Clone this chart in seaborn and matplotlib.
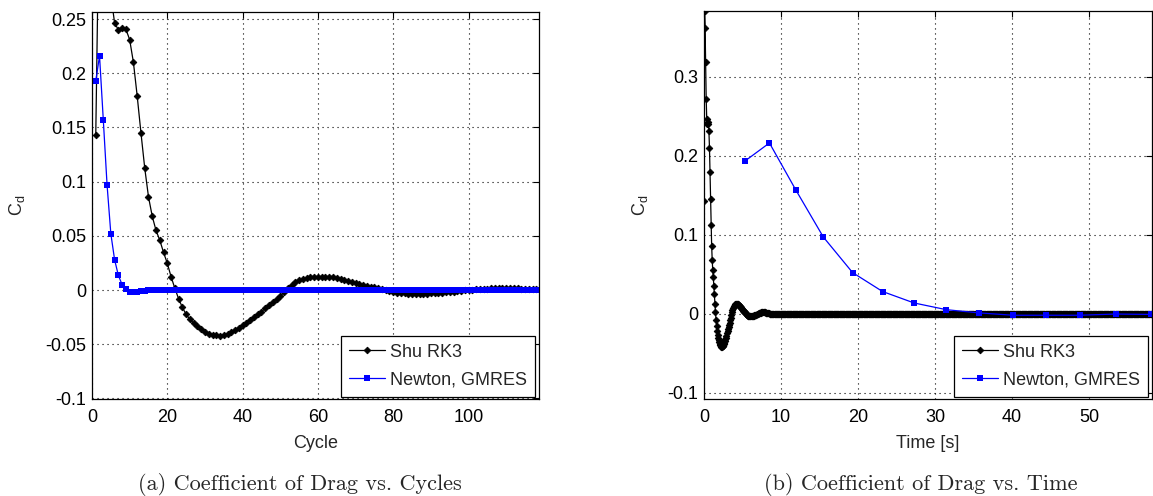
import numpy as np
import pandas as pd
import matplotlib
matplotlib.use("Agg")
import matplotlib.pyplot as plt
import seaborn as sns

# Drag coefficient of the explicit Shu RK3 scheme, one value per cycle (cycles 1..120)
shu_cd_first = [
    0.143, 0.383, 0.362, 0.318, 0.272, 0.2465, 0.240, 0.242, 0.2406, 0.231,
    0.210, 0.179, 0.145, 0.1126, 0.086, 0.068, 0.055, 0.046, 0.0347, 0.0246,
    0.0123, 0.0016, -0.008, -0.016, -0.0225, -0.027, -0.0305, -0.0335, -0.0362, -0.0385,
    -0.0402, -0.0413, -0.0419, -0.042, -0.0414, -0.0403, -0.0387, -0.0368, -0.0346, -0.0325,
    -0.0302, -0.0277, -0.0251, -0.0225, -0.0198, -0.017, -0.0142, -0.0113, -0.0082, -0.0053,
    -0.0022, 0.0018, 0.0048, 0.0072, 0.009, 0.0102, 0.0110, 0.0116, 0.0120, 0.0123,
    0.0124, 0.0124, 0.0123, 0.0118, 0.0110, 0.0100, 0.0090, 0.0081, 0.0072, 0.0064,
    0.0055, 0.0047, 0.0039, 0.0031, 0.0024, 0.0015, 0.0006, -0.0004, -0.0012, -0.0019,
    -0.0024, -0.0028, -0.0031, -0.0033, -0.0034, -0.0035, -0.0035, -0.0034, -0.0033, -0.0031,
    -0.0029, -0.0026, -0.0023, -0.002, -0.0017, -0.0014, -0.0011, -0.0008, -0.0004, 0.0,
    0.0003, 0.0006, 0.0009, 0.0011, 0.0013, 0.0015, 0.0016, 0.0017, 0.0017, 0.0017,
    0.0017, 0.0016, 0.0015, 0.0014, 0.0013, 0.0012, 0.0010, 0.0008, 0.0006, 0.0004,
]
# after cycle 120 the explicit solution has settled at zero
shu_cd_settled = [0.0] * 710
shu_cd = shu_cd_first + shu_cd_settled
shu_dt = 0.071  # physical time per explicit cycle [s]

# Drag coefficient of the implicit Newton / GMRES solver, one value per cycle
newton_cd_first = [
    0.193, 0.216, 0.157, 0.097, 0.052, 0.028, 0.0135, 0.005, 0.001, -0.002,
    -0.002, -0.002, -0.0005, -0.001,
]
newton_cd = newton_cd_first + [0.0] * 106
# physical time reached after each implicit cycle [s]
newton_time = [5.3, 8.5, 11.9, 15.5, 19.3, 23.2, 27.3, 31.5, 35.7, 40.1,
               44.4, 48.8, 53.5, 58.1]

shu = pd.DataFrame({"cycle": np.arange(1, len(shu_cd) + 1), "cd": shu_cd})
shu["time"] = (shu["cycle"] - 1) * shu_dt
newton = pd.DataFrame({"cycle": np.arange(1, len(newton_cd) + 1), "cd": newton_cd})
newton_t = pd.DataFrame({"time": newton_time, "cd": newton_cd[:len(newton_time)]})

sns.set_style("white")
plt.rcParams["font.family"] = ["Liberation Sans", "DejaVu Sans"]
plt.rcParams["axes.unicode_minus"] = False

W, H = 1153, 496
fig = plt.figure(figsize=(W / 100, H / 100), dpi=100)
ax1 = fig.add_axes([92 / W, (H - 399) / H, 447 / W, 387 / H])
ax2 = fig.add_axes([704 / W, (H - 399) / H, 448 / W, 388 / H])

shu_style = dict(color="black", marker="D", markersize=3.4, markeredgewidth=0.6,
                 markeredgecolor="black", linewidth=0.9)
newton_style = dict(color="#0000ff", marker="s", markersize=4.5, markeredgewidth=0,
                    linewidth=0.9)

sns.lineplot(data=shu[shu["cycle"] <= 125], x="cycle", y="cd", ax=ax1, estimator=None,
             sort=False, label="Shu RK3", **shu_style)
sns.lineplot(data=newton, x="cycle", y="cd", ax=ax1, estimator=None, sort=False,
             label="Newton, GMRES", **newton_style)

sns.lineplot(data=shu, x="time", y="cd", ax=ax2, estimator=None, sort=False,
             label="Shu RK3", **shu_style)
sns.lineplot(data=newton_t, x="time", y="cd", ax=ax2, estimator=None, sort=False,
             label="Newton, GMRES", **newton_style)

ax1.set_xlim(0, 118.7)
ax1.set_ylim(-0.1005, 0.2565)
ax1.set_xticks([0, 20, 40, 60, 80, 100])
ax1.set_xticklabels(["0", "20", "40", "60", "80", "100"])
ax1.set_yticks([-0.1, -0.05, 0, 0.05, 0.1, 0.15, 0.2, 0.25])
ax1.set_yticklabels(["-0.1", "-0.05", "0", "0.05", "0.1", "0.15", "0.2", "0.25"])
ax1.set_xlabel("Cycle", fontsize=13, labelpad=7)

ax2.set_xlim(0, 58.2)
ax2.set_ylim(-0.108, 0.383)
ax2.set_xticks([0, 10, 20, 30, 40, 50])
ax2.set_xticklabels(["0", "10", "20", "30", "40", "50"])
ax2.set_yticks([-0.1, 0, 0.1, 0.2, 0.3])
ax2.set_yticklabels(["-0.1", "0", "0.1", "0.2", "0.3"])
ax2.set_xlabel("Time [s]", fontsize=13, labelpad=7)

for ax in (ax1, ax2):
    ax.set_ylabel(r"C$_\mathregular{d}$", fontsize=13, labelpad=13)
    ax.grid(True, color="black", linestyle=(0, (1, 3.5)), linewidth=0.8)
    ax.tick_params(direction="in", length=4, width=0.8, top=True, right=True,
                   labelsize=13, colors="black")
    ax.tick_params(axis="x", pad=7)
    ax.tick_params(axis="y", pad=4)
    for sp in ax.spines.values():
        sp.set_color("black")
        sp.set_linewidth(0.9)
    leg = ax.legend(loc="lower right", bbox_to_anchor=(0.992, 0.006), frameon=True,
                    fancybox=False, edgecolor="black", framealpha=1, fontsize=13,
                    handlelength=2.0, borderaxespad=0, borderpad=0.45,
                    labelspacing=0.6, handletextpad=0.3)
    leg.get_frame().set_linewidth(0.9)

fig.text(300 / W, 1 - 484 / H, "(a) Coefficient of Drag vs. Cycles", ha="center",
         va="center", fontsize=16, family=["cmr10"])
fig.text(921 / W, 1 - 484 / H, "(b) Coefficient of Drag vs. Time", ha="center",
         va="center", fontsize=16, family=["cmr10"])

fig.savefig("out.png", dpi=100)
